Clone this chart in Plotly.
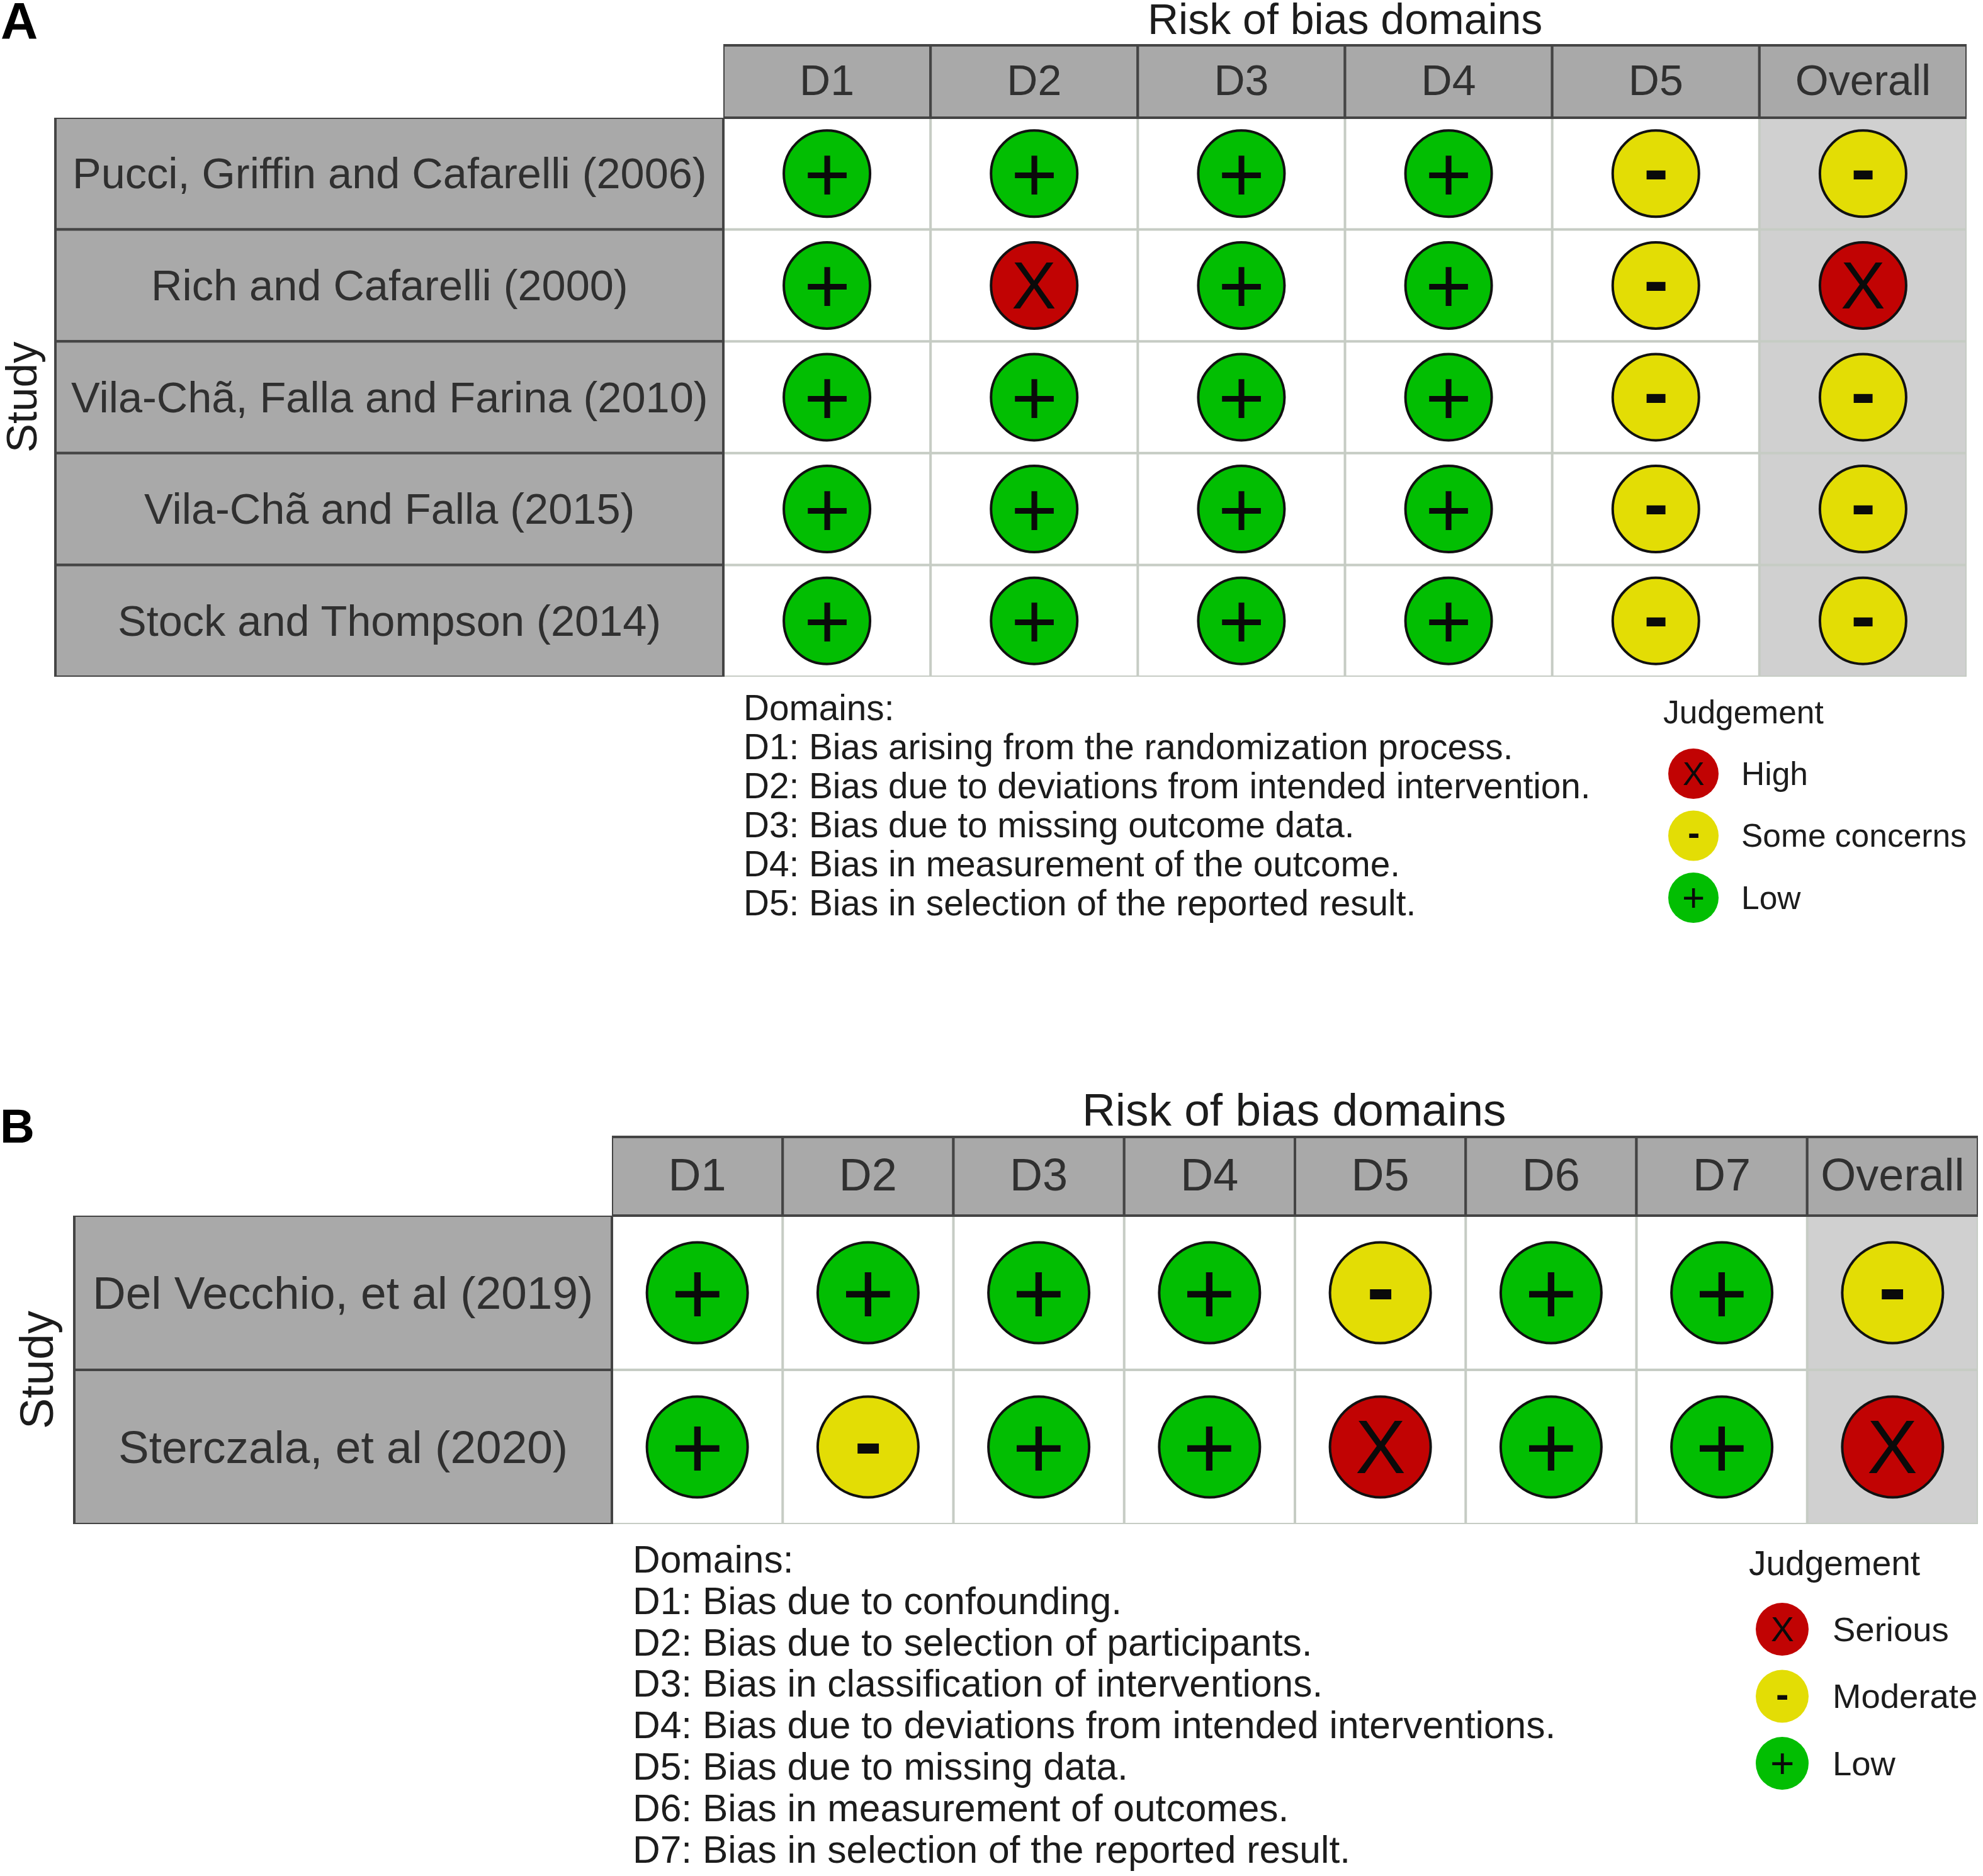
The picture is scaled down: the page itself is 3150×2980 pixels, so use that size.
import plotly.graph_objects as go

W, H = 3150, 2980
FONT = "Liberation Sans"

COLORS = {"+": "#02BE02", "-": "#E3DD05", "X": "#C10303"}
SYM_SIZE = {"+": 127, "-": 118, "X": 106}

A_STUDIES = [
    "Pucci, Griffin and Cafarelli (2006)",
    "Rich and Cafarelli (2000)",
    "Vila-Chã, Falla and Farina (2010)",
    "Vila-Chã and Falla (2015)",
    "Stock and Thompson (2014)",
]
A_DOMAINS = ["D1", "D2", "D3", "D4", "D5", "Overall"]
A_JUDGEMENTS = [
    ["+", "+", "+", "+", "-", "-"],
    ["+", "X", "+", "+", "-", "X"],
    ["+", "+", "+", "+", "-", "-"],
    ["+", "+", "+", "+", "-", "-"],
    ["+", "+", "+", "+", "-", "-"],
]
A_NOTES = [
    "Domains:",
    "D1: Bias arising from the randomization process.",
    "D2: Bias due to deviations from intended intervention.",
    "D3: Bias due to missing outcome data.",
    "D4: Bias in measurement of the outcome.",
    "D5: Bias in selection of the reported result.",
]
A_LEGEND = ["High", "Some concerns", "Low"]
A_LEGEND_SYM = ["X", "-", "+"]

B_STUDIES = ["Del Vecchio, et al (2019)", "Sterczala, et al (2020)"]
B_DOMAINS = ["D1", "D2", "D3", "D4", "D5", "D6", "D7", "Overall"]
B_JUDGEMENTS = [
    ["+", "+", "+", "+", "-", "+", "+", "-"],
    ["+", "-", "+", "+", "X", "+", "+", "X"],
]
B_NOTES = [
    "Domains:",
    "D1: Bias due to confounding.",
    "D2: Bias due to selection of participants.",
    "D3: Bias in classification of interventions.",
    "D4: Bias due to deviations from intended interventions.",
    "D5: Bias due to missing data.",
    "D6: Bias in measurement of outcomes.",
    "D7: Bias in selection of the reported result.",
]
B_LEGEND = ["Serious", "Moderate", "Low"]
B_LEGEND_SYM = ["X", "-", "+"]

fig = go.Figure()
shapes = []
annotations = []


def px_x(x):
    return x / W


def px_y(y):
    return 1 - y / H


def axis_ids(n):
    return ("x", "y") if n == 1 else (f"x{n}", f"y{n}")


def text(txt, x, y, size, anchor="left", angle=0, color="#1c1c1c", bold=False):
    annotations.append(dict(
        text=f"<b>{txt}</b>" if bold else txt,
        x=px_x(x), y=px_y(y), xref="paper", yref="paper",
        xanchor=anchor, yanchor="middle", textangle=angle, showarrow=False,
        font=dict(family=FONT, size=size, color=color),
    ))


def symbol(sym, xa, ya, x, y, scale):
    size = SYM_SIZE[sym] * scale
    annotations.append(dict(
        text="<b>-</b>" if sym == "-" else sym,
        xref=xa, yref=ya, x=x, y=y, xanchor="center", yanchor="middle", showarrow=False,
        # the hyphen sits below the middle of its line box
        yshift=0.07 * size if sym == "-" else 0,
        font=dict(family=FONT, size=size, color="#0a0a0a"),
    ))


def panel(n, studies, domains, judgements, box, strip_left, header_top, m_size, sym_scale,
          label_size, tick_size, ticklen):
    left, right, top, bottom = box
    xa, ya = axis_ids(n)
    width, height = right - left, bottom - top
    strip_color, edge = "#A9A9A9", "#444444"
    grid = "#C6CCC4"

    xs, ys, cols = [], [], []
    for study, row in zip(studies, judgements):
        for dom, j in zip(domains, row):
            xs.append(dom)
            ys.append(study)
            cols.append(COLORS[j])
            symbol(j, xa, ya, dom, study, sym_scale)

    fig.add_trace(go.Scatter(
        x=xs, y=ys, xaxis=xa, yaxis=ya, mode="markers",
        marker=dict(size=m_size, color=cols, line=dict(color="#111111", width=4)),
        cliponaxis=False, showlegend=False, hoverinfo="skip",
    ))

    # overall column shading and cell grid
    nc, nr = len(domains), len(studies)
    shapes.append(dict(type="rect", xref=xa, yref=f"{ya} domain", x0=nc - 1.5, x1=nc - 0.5,
                       y0=0, y1=1, fillcolor="#D0D0D0", line_width=0, layer="below"))
    for i in range(nc + 1):
        shapes.append(dict(type="line", xref=xa, yref=f"{ya} domain", x0=i - 0.5, x1=i - 0.5,
                           y0=0, y1=1, line=dict(color=grid, width=4), layer="below"))
    for i in range(nr + 1):
        shapes.append(dict(type="line", xref=f"{xa} domain", yref=ya, x0=0, x1=1,
                           y0=i - 0.5, y1=i - 0.5, line=dict(color=grid, width=4), layer="below"))

    # header strip
    head = (top - header_top) / height
    for i in range(nc):
        shapes.append(dict(type="rect", xref=xa, yref=f"{ya} domain", x0=i - 0.5, x1=i + 0.5,
                           y0=1, y1=1 + head, fillcolor=strip_color,
                           line=dict(color=edge, width=4), layer="below"))

    # study strip
    lft = (left - strip_left) / width
    for i, study in enumerate(studies):
        shapes.append(dict(type="rect", xref=f"{xa} domain", yref=ya, x0=-lft, x1=0,
                           y0=i - 0.5, y1=i + 0.5, fillcolor=strip_color,
                           line=dict(color=edge, width=4), layer="below"))
        annotations.append(dict(
            text=study, xref=f"{xa} domain", yref=ya, x=-lft / 2, y=study,
            xanchor="center", yanchor="middle", showarrow=False,
            font=dict(family=FONT, size=label_size, color="#303030"),
        ))

    fig.update_layout(**{
        f"xaxis{n}": dict(
            domain=[px_x(left), px_x(right)], anchor=ya, side="top", type="category",
            categoryorder="array", categoryarray=domains, range=[-0.5, nc - 0.5],
            showgrid=False, zeroline=False, showline=False,
            ticks="outside", ticklen=ticklen, tickcolor="rgba(0,0,0,0)",
            tickfont=dict(family=FONT, size=tick_size, color="#303030"),
        ),
        f"yaxis{n}": dict(
            domain=[px_y(bottom), px_y(top)], anchor=xa, type="category",
            categoryorder="array", categoryarray=studies, range=[nr - 0.5, -0.5],
            showgrid=False, zeroline=False, showline=False, showticklabels=False, ticks="",
        ),
    })


def legend(n, labels, symbols, cx, cy_first, pitch, m_size, sym_scale, label_x, label_size):
    xa, ya = axis_ids(n)
    half = pitch * len(labels) / 2
    mid = cy_first + pitch * (len(labels) - 1) / 2
    fig.add_trace(go.Scatter(
        x=["key"] * len(labels), y=labels, xaxis=xa, yaxis=ya, mode="markers",
        marker=dict(size=m_size, color=[COLORS[s] for s in symbols], line_width=0),
        cliponaxis=False, showlegend=False, hoverinfo="skip",
    ))
    fig.update_layout(**{
        f"xaxis{n}": dict(domain=[px_x(cx - 50), px_x(cx + 50)], anchor=ya, visible=False,
                          type="category", range=[-0.5, 0.5]),
        f"yaxis{n}": dict(domain=[px_y(mid + half), px_y(mid - half)], anchor=xa, visible=False,
                          type="category", categoryorder="array", categoryarray=labels,
                          range=[len(labels) - 0.5, -0.5]),
    })
    for i, (lab, sym) in enumerate(zip(labels, symbols)):
        symbol(sym, xa, ya, "key", lab, sym_scale)
        text(lab, label_x, cy_first + i * pitch, label_size)


panel(1, A_STUDIES, A_DOMAINS, A_JUDGEMENTS, (1149, 3124, 187, 1075), 88, 72, 137, 1.0,
      68.5, 68, 8)
panel(2, B_STUDIES, B_DOMAINS, B_JUDGEMENTS, (972, 3142, 1931, 2421), 118, 1806, 160, 1.13,
      73, 72, 10)
legend(3, A_LEGEND, A_LEGEND_SYM, 2690, 1229, 98.5, 80, 0.49, 2764, 51.5)
legend(4, B_LEGEND, B_LEGEND_SYM, 2831, 2588, 106.5, 84, 0.52, 2909, 54.5)

text("Risk of bias domains", 2136, 30, 68, anchor="center")
text("Risk of bias domains", 2056, 1762, 73, anchor="center")
text("Study", 34, 631, 69, anchor="center", angle=-90)
text("Study", 58, 2176, 73.5, anchor="center", angle=-90)
text("A", 30, 33, 82, anchor="center", bold=True, color="#000000")
text("B", 27, 1788, 76, anchor="center", bold=True, color="#000000")
text("Judgement", 2640, 1131, 51.5)
text("Judgement", 2776, 2483, 55)

for i, line in enumerate(A_NOTES):
    text(line, 1179, 1125 + i * 61.8, 56.7)
for i, line in enumerate(B_NOTES):
    text(line, 1003, 2477 + i * 65.8, 60.5)

fig.update_layout(
    width=W, height=H, margin=dict(l=0, r=0, t=0, b=0),
    paper_bgcolor="white", plot_bgcolor="white",
    shapes=shapes, annotations=annotations,
)
fig.write_html("out.html", config={"displayModeBar": False},
               post_script="document.body.style.margin = '0';")
